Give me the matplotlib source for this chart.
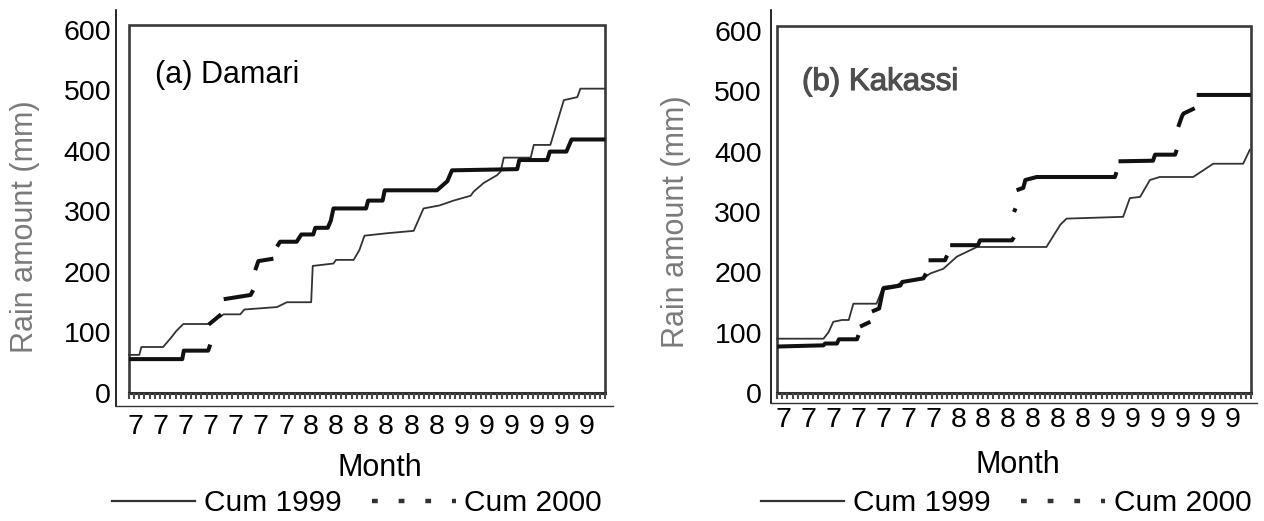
import numpy as np
import matplotlib.pyplot as plt
import matplotlib.patheffects as pe
from matplotlib.lines import Line2D

plt.rcParams['font.family'] = ['Liberation Sans', 'DejaVu Sans']

nan = np.nan

# day counted from 1 July, cumulative rain in mm; nan marks a break in the record
damari_day_1999 = [0, 2.0, 2.4, 6.6, 8.0, 9.2, 10.5, 15.5, 16.4, 17.6, 18.3, 21.5, 22.3, 28.6,
                   30.5, 35.2, 35.5, 39.5, 40.0, 43.4, 44.5, 45.5, 49.8, 55.0, 56.9, 60.0, 62.7,
                   66.0, 66.6, 68.5, 71.1, 71.8, 72.4, 77.6, 78.2, 81.4, 84.0, 86.6, 87.2, 91.8]
damari_cum_1999 = [63, 63, 76, 76, 90, 103, 114, 114, 121, 126, 130, 130, 138, 142,
                   150, 150, 210, 214, 220, 220, 236, 260, 264, 268, 305, 310, 318,
                   326, 333, 347, 360, 366, 389, 389, 410, 410, 484, 489, 503, 503]

damari_day_2000 = [0, 10.3, 10.6, 15.3, 15.7, nan, 15.4, 17.8, nan, 18.3, 23.5, 24.0, nan,
                   24.4, 25.0, 27.9, nan, 28.6, 29.2, 32.4, 33.3, 35.6, 36.0, 38.4, 39.0, 39.5,
                   45.8, 46.2, 49.0, 49.4, 59.5, 61.5, 62.4, 75.0, 75.4, 80.8, 81.3, 84.5, 85.5, 92]
damari_cum_2000 = [56, 56, 70, 70, 80, nan, 113, 130, nan, 155, 162, 170, nan,
                   203, 218, 222, nan, 242, 250, 250, 262, 262, 273, 273, 285, 305,
                   305, 318, 318, 335, 335, 350, 368, 370, 385, 385, 399, 399, 419, 419]

kakassi_day_1999 = [0, 9.0, 10.0, 10.9, 12.6, 13.9, 14.8, 19.3, 20.6, 23.2, 24.5, 28.4, 29.7,
                    32.3, 34.9, 38.8, 52.3, 55.0, 56.2, 67.2, 68.5, 70.5, 72.4, 74.3, 80.8,
                    84.7, 90.5, 91.8]
kakassi_cum_1999 = [90, 90, 101, 118, 121, 121, 148, 148, 176, 179, 184, 190, 198,
                    206, 226, 242, 242, 279, 289, 292, 323, 325, 353, 358, 358,
                    380, 380, 403]

kakassi_day_2000 = [0, 9.0, 9.3, 11.6, 12.0, 15.5, 15.8, nan, 16.1, 18.1, nan, 18.4, 19.8,
                    20.6, 23.9, 24.3, 28.4, 28.9, nan, 29.4, 32.6, 33.0, nan, 33.6, 39.0, 39.4,
                    45.6, 46.0, nan, 46.0, 46.3, nan, 46.5, 47.8, 48.2, 50.4, 65.6, 65.9, nan,
                    66.3, 73.0, 73.4, 77.3, 77.6, nan, 77.9, 78.6, 78.9, 81.1, nan, 81.5, 92]
kakassi_cum_2000 = [77, 79, 82, 82, 89, 89, 96, nan, 110, 118, nan, 135, 140,
                    173, 178, 184, 190, 198, nan, 220, 220, 228, nan, 245, 245, 253,
                    253, 258, nan, 300, 306, nan, 336, 340, 353, 358, 358, 366, nan,
                    384, 385, 395, 395, 403, nan, 441, 458, 463, 472, nan, 494, 494]

month_labels = ['7'] * 7 + ['8'] * 6 + ['9'] * 6
rain_ticks = [0, 100, 200, 300, 400, 500, 600]
season_days = 92

W, H = 1264, 521
fig = plt.figure(figsize=(W / 100, H / 100), dpi=100)


def fx(x):
    return x / W


def fy(y):
    return 1 - y / H


def panel(box, xlim, ylim, days99, cum99, days00, cum00, xpad, ypad, legend_x):
    left, bottom, right, top = box
    ax = fig.add_axes([fx(left), fy(bottom), (right - left) / W, (bottom - top) / H])
    ax.set_xlim(xlim)
    ax.set_ylim(ylim)
    for side in ('top', 'right'):
        ax.spines[side].set_visible(False)
    ax.spines['left'].set_linewidth(1.2)
    ax.spines['bottom'].set_linewidth(1.0)
    ax.spines['bottom'].set_color('#333333')

    ax.set_yticks(rain_ticks)
    ax.set_xticks(np.linspace(1.3, 88.4, len(month_labels)))
    ax.set_xticklabels(month_labels)
    ax.tick_params(length=0, labelsize=20.5)
    ax.tick_params(axis='x', pad=xpad)
    ax.tick_params(axis='y', pad=ypad)

    # box and day comb of the original rain plot
    ax.plot([0, 0, season_days, season_days], [0, 608, 608, 0],
            color='#3a3a3a', lw=1.9, solid_joinstyle='miter')
    ax.plot([0, season_days], [0, 0], color='#2e2e2e', lw=2.2)
    ax.vlines(np.arange(0, season_days + 1), -10, 0, color='#4a4a4a', lw=1.5)

    ax.plot(days99, cum99, color='#333333', lw=1.3)
    ax.plot(days00, cum00, color='#111111', lw=2.9, solid_capstyle='butt')

    handles = [Line2D([], [], color='#333333', lw=1.6),
               Line2D([], [], color='#333333', lw=3.2, linestyle=(0, (1.3, 4.7)))]
    ax.legend(handles, ['Cum 1999', 'Cum 2000'], ncol=2, frameon=False, loc='center',
              bbox_to_anchor=(fx(legend_x), fy(503)), bbox_transform=fig.transFigure,
              fontsize=21.5, handlelength=2.8, handletextpad=0.3, columnspacing=1.0,
              borderpad=0, borderaxespad=0)
    return ax


panel((116, 406, 613, 10), (-2.5, 93.5), (-21.5, 633),
      damari_day_1999, damari_cum_1999, damari_day_2000, damari_cum_2000, 6, 3.5, 357)
panel((771, 403, 1257, 10), (-1.2, 93.2), (-16.6, 634.8),
      kakassi_day_1999, kakassi_cum_1999, kakassi_day_2000, kakassi_cum_2000, 3, 6.5, 1006)

fig.text(fx(155), fy(75), '(a) Damari', fontsize=22, ha='left', va='center')
fig.text(fx(802), fy(82), '(b) Kakassi', fontsize=22.5, ha='left', va='center', color='#4e4e4e',
         path_effects=[pe.withStroke(linewidth=0.8, foreground='#4e4e4e')])

for x, y in ((25, 227), (676, 222)):
    fig.text(fx(x), fy(y), 'Rain amount (mm)', fontsize=22, rotation=90,
             ha='center', va='center', color='#7a7a7a')

fig.text(fx(380), fy(468), 'Month', fontsize=22, ha='center', va='center')
fig.text(fx(1018), fy(465), 'Month', fontsize=22, ha='center', va='center')

fig.savefig('out.png', dpi=100)
